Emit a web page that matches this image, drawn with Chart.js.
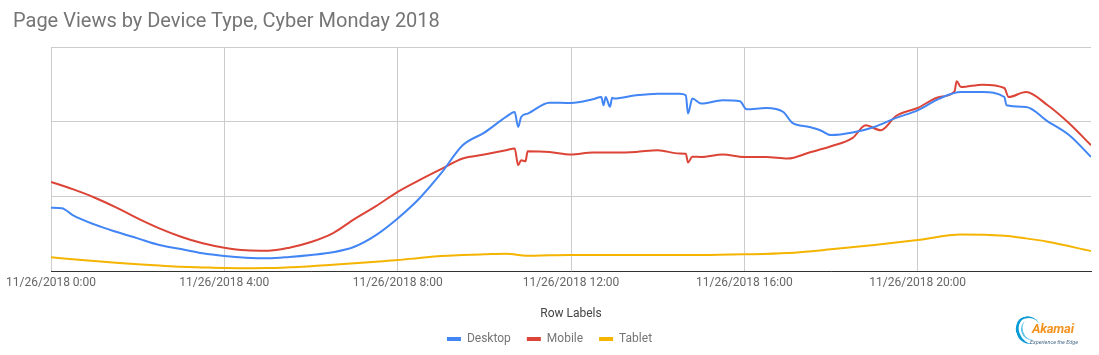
<!DOCTYPE html>
<html>
<head>
<meta charset="utf-8">
<script src="https://cdn.jsdelivr.net/npm/chart.js@4.4.1/dist/chart.umd.min.js"></script>
<style>
  html, body { margin: 0; padding: 0; background: #fff; }
  #wrap { position: relative; width: 1099px; height: 355px; font-family: Roboto, "Open Sans", sans-serif; }
  #title { position: absolute; left: 13px; top: 9px; font-size: 20px; line-height: 22px; color: #757575; white-space: nowrap; }
  #legendTitle { position: absolute; left: 471px; width: 200px; top: 306px; font-size: 12px; line-height: 14px; color: #444; text-align: center; }
  #logo { position: absolute; left: 1014px; top: 312px; width: 70px; height: 38px; }
  #logo .arc1 { position: absolute; left: 2px; top: 4px; width: 22px; height: 26px; border-left: 3px solid #0a9ad6; border-top: 2px solid #0a9ad6; border-radius: 50%; transform: rotate(-20deg); }
  #logo .arc2 { position: absolute; left: 7px; top: 8px; width: 16px; height: 20px; border-left: 2px solid #5bc2ea; border-radius: 50%; transform: rotate(-20deg); }
  #logo .name { position: absolute; left: 18px; top: 9px; font-size: 13px; font-weight: bold; font-style: italic; color: #f39321; letter-spacing: -0.2px; }
  #logo .tag { position: absolute; left: 16px; top: 27px; font-size: 5.5px; font-style: italic; color: #4a6b8a; white-space: nowrap; }
</style>
</head>
<body>
<div id="wrap">
  <canvas id="c" width="1099" height="355"></canvas>
  <div id="title">Page Views by Device Type, Cyber Monday 2018</div>
  <div id="legendTitle">Row Labels</div>
  <div id="logo"><div class="arc1"></div><div class="arc2"></div><div class="name">Akamai</div><div class="tag">Experience the Edge</div></div>
</div>
<script>
// ---- data (hours since 11/26/2018 0:00, relative page-view units) ----
const seriesNames = ['Desktop', 'Mobile', 'Tablet'];

const desktopHours = [0,0.25,0.5,1,1.5,2,2.5,3,3.5,4,4.5,5,5.5,6,6.5,7,7.5,8,8.5,9,9.5,10,10.5,10.7,10.78,10.85,11,11.5,12,12.5,12.7,12.75,12.8,12.9,12.95,13,13.5,14,14.5,14.65,14.7,14.8,15,15.5,15.9,16.05,16.5,16.9,17.1,17.5,17.75,18,18.5,19,19.5,20,20.5,21,21.5,22,22.05,22.5,23,23.5,24];
const desktopValues = [0.846,0.84,0.749,0.624,0.525,0.437,0.348,0.294,0.237,0.201,0.178,0.170,0.187,0.214,0.250,0.325,0.481,0.704,0.971,1.306,1.684,1.854,2.063,2.130,1.929,2.063,2.108,2.255,2.25,2.299,2.33,2.22,2.33,2.20,2.32,2.309,2.353,2.375,2.375,2.353,2.108,2.309,2.242,2.286,2.273,2.166,2.183,2.130,1.988,1.929,1.885,1.82,1.854,1.929,2.050,2.152,2.309,2.397,2.397,2.330,2.219,2.197,2.005,1.818,1.528];

const mobileHours = [0,0.5,1,1.5,2,2.5,3,3.5,4,4.5,5,5.5,6,6.5,7,7.5,8,8.5,9,9.5,10,10.5,10.7,10.78,10.85,10.95,11,11.5,12,12.5,13,13.5,14,14.5,14.65,14.7,14.8,15,15.5,16,16.5,17,17.5,18,18.5,18.8,19.15,19.5,20,20.5,20.85,20.9,21,21.5,22,22.1,22.5,23,23.5,24];
const mobileValues = [1.194,1.096,0.985,0.852,0.705,0.571,0.459,0.371,0.312,0.277,0.271,0.312,0.388,0.504,0.695,0.869,1.060,1.217,1.364,1.506,1.560,1.618,1.640,1.417,1.484,1.47,1.604,1.595,1.56,1.587,1.587,1.595,1.618,1.573,1.57,1.453,1.53,1.528,1.560,1.528,1.528,1.506,1.587,1.670,1.783,1.952,1.885,2.076,2.183,2.330,2.406,2.540,2.464,2.496,2.451,2.330,2.397,2.219,1.975,1.684];

const tabletHours = [0,0.5,1,1.5,2,2.5,3,3.5,4,4.5,5,5.5,6,6.5,7,7.5,8,8.5,9,9.5,10,10.5,11,11.5,12,13,14,15,16,17,18,19,20,21,22,22.5,23,24];
const tabletValues = [0.183,0.158,0.134,0.111,0.090,0.073,0.057,0.048,0.040,0.038,0.040,0.050,0.063,0.083,0.103,0.125,0.147,0.175,0.200,0.213,0.223,0.232,0.205,0.21,0.214,0.214,0.214,0.214,0.223,0.241,0.290,0.348,0.414,0.490,0.472,0.437,0.392,0.267];

const xTickHours = [0, 4, 8, 12, 16, 20];
const xTickLabels = ['11/26/2018 0:00', '11/26/2018 4:00', '11/26/2018 8:00', '11/26/2018 12:00', '11/26/2018 16:00', '11/26/2018 20:00'];

// ---- chart ----
const colors = ['#4285f4', '#db4437', '#f4b400'];
const pairs = [[desktopHours, desktopValues], [mobileHours, mobileValues], [tabletHours, tabletValues]];

const datasets = pairs.map((p, i) => ({
  label: seriesNames[i],
  data: p[0].map((h, j) => ({ x: h, y: p[1][j] })),
  borderColor: colors[i],
  backgroundColor: colors[i],
  borderWidth: 2,
  pointRadius: 0,
  cubicInterpolationMode: 'monotone',
  fill: false
}));

// legend items in the reference are centred on the canvas, not on the plot area
const shiftLegend = {
  id: 'shiftLegend',
  afterLayout(chart) {
    const lg = chart.legend;
    if (lg) { const d = chart.width / 2 - (lg.left + lg.right) / 2; lg.left += d; lg.right += d; }
  }
};

new Chart(document.getElementById('c'), {
  type: 'line',
  data: { datasets },
  plugins: [shiftLegend],
  options: {
    responsive: false,
    animation: false,
    layout: { padding: { left: 51, right: 8, top: 47, bottom: 0 } },
    scales: {
      x: {
        type: 'linear',
        min: 0, max: 24,
        afterBuildTicks: s => { s.ticks = xTickHours.map(v => ({ value: v })); },
        afterFit: s => { s.height = 46; },
        ticks: {
          autoSkip: false, maxRotation: 0, minRotation: 0, padding: 5,
          color: '#666', font: { family: 'Roboto', size: 12 },
          callback: v => xTickLabels[xTickHours.indexOf(v)]
        },
        grid: { color: '#cccccc', drawTicks: false, lineWidth: 1 },
        border: { color: '#333333', width: 1 }
      },
      y: {
        min: 0, max: 3,
        ticks: { display: false, stepSize: 1 },
        afterFit: s => { s.width = 0; },
        grid: { color: '#cccccc', drawTicks: false },
        border: { display: false }
      }
    },
    plugins: {
      tooltip: { enabled: false },
      legend: {
        position: 'bottom',
        labels: {
          boxWidth: 14, boxHeight: 4, padding: 16, color: '#757575',
          font: { family: 'Roboto', size: 12 },
          generateLabels: chart => chart.data.datasets.map((d, i) => ({
            text: d.label, fillStyle: d.borderColor, strokeStyle: d.borderColor, lineWidth: 0,
            fontColor: '#757575', datasetIndex: i, hidden: false
          }))
        }
      }
    }
  }
});
</script>
</body>
</html>
